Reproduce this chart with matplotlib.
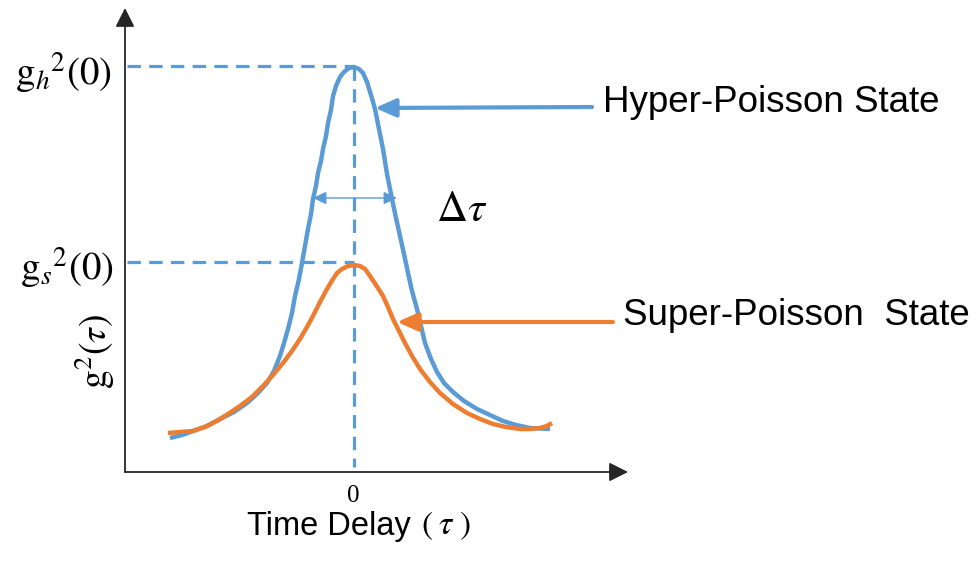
import matplotlib
matplotlib.use("Agg")
import matplotlib.pyplot as plt
from matplotlib.patches import FancyArrowPatch

plt.rcParams['mathtext.fontset'] = 'stix'

# Data: tau (horizontal offset from the peak) and g2 (height above the tau axis)
blue_tau = [-184, -172, -161, -147, -134, -120, -107, -97, -87, -80, -74, -70, -66, -62, -59, -55,
            -52, -49, -46, -43, -41, -38, -36, -33, -31, -28, -26, -23, -21, -18, -14, -10, -5, 0,
            5, 9, 13, 17, 21, 25, 29, 33, 38, 42, 46, 50, 54, 58, 63, 67, 71, 77, 83, 90, 99,
            110, 123, 136, 149, 162, 176, 196]
blue_g2 = [34, 37, 41, 46, 53, 60, 69, 78, 89, 101, 116, 129, 143, 159, 176, 193,
           209, 226, 243, 258, 273, 286, 299, 311, 323, 336, 349, 362, 376, 386, 395, 400, 404, 405,
           403, 399, 390, 377, 363, 343, 323, 298, 273, 254, 236, 218, 199, 181, 163, 146, 129, 113, 100, 89, 80,
           71, 63, 57, 51, 47, 44, 43]

orange_tau = [-186, -174, -161, -149, -137, -126, -114, -102, -91, -81, -71, -62, -54, -47, -41, -34,
              -27, -21, -17, -12, -6, 0, 6, 11, 16, 22, 29, 34, 39, 45, 51, 58, 66, 76, 86, 99,
              113, 126, 139, 152, 166, 176, 186, 193, 198]
orange_g2 = [39, 40, 41, 45, 51, 58, 66, 75, 86, 97, 109, 121, 133, 145, 156, 170,
             183, 193, 199, 203, 206, 207, 206, 203, 196, 187, 176, 165, 153, 141, 129, 116, 103, 90, 79, 68,
             59, 53, 48, 45, 43, 43, 44, 46, 49]

gh_level = 405
gs_level = 208
tick_labels = ['0']
hyper_label = 'Hyper-Poisson State'
super_label = 'Super-Poisson  State'

BLUE = '#5B9BD5'
ORANGE = '#ED7D31'
AXC = '#262626'

fig = plt.figure(figsize=(9.78, 5.61), dpi=100)
ax = fig.add_axes([0, 0, 1, 1])
ax.set_xlim(-354, 624)
ax.set_ylim(-89, 472)
ax.axis('off')

# axes with arrows
ax.add_patch(FancyArrowPatch((-229, 0), (274, 0), arrowstyle='-|>,head_length=1.15,head_width=0.58',
                             mutation_scale=10, lw=1.3, color=AXC, shrinkA=0, shrinkB=0))
ax.add_patch(FancyArrowPatch((-229, 0), (-229, 464), arrowstyle='-|>,head_length=1.15,head_width=0.58',
                             mutation_scale=10, lw=1.3, color=AXC, shrinkA=0, shrinkB=0))

# dashed guide lines
dash = dict(color=BLUE, lw=2.3, dashes=(4.2, 2.6))
ax.plot([-227, 0], [gh_level + 1, gh_level + 1], **dash)
ax.plot([-227, 0], [gs_level + 2, gs_level + 2], **dash)
ax.plot([0, 0], [gh_level, 5], **dash)

# curves
ax.plot(blue_tau, blue_g2, color=BLUE, lw=3.2, solid_joinstyle='round', solid_capstyle='butt', zorder=3)
ax.plot(orange_tau, orange_g2, color=ORANGE, lw=3.2, solid_joinstyle='round', solid_capstyle='butt', zorder=4)

# delta tau arrow
ax.add_patch(FancyArrowPatch((-41, 274), (43, 274), arrowstyle='<|-|>,head_length=0.8,head_width=0.38',
                             mutation_scale=10, lw=1.0, color=BLUE, shrinkA=0, shrinkB=0, zorder=5))
ax.text(108, 263, r'$\Delta\tau$', fontsize=31, ha='center', va='center', color='black')

# labelling arrows
ax.add_patch(FancyArrowPatch((238, 365), (21, 364), arrowstyle='-|>,head_length=1.25,head_width=0.55',
                             mutation_scale=10, lw=3.0, color=BLUE, shrinkA=0, shrinkB=0, zorder=5))
ax.add_patch(FancyArrowPatch((259, 150), (43, 150), arrowstyle='-|>,head_length=1.25,head_width=0.55',
                             mutation_scale=10, lw=3.0, color=ORANGE, shrinkA=0, shrinkB=0, zorder=5))

ax.text(249, 370, hyper_label, fontsize=26.5, family='Liberation Sans', ha='left', va='center')
ax.text(269, 157, super_label, fontsize=26.5, family='Liberation Sans', ha='left', va='center')

# y tick-like labels
ax.text(-242, 399, r'$\mathrm{g}_{h}{}^{2}(0)$', fontsize=28, ha='right', va='center')
ax.text(-240, 204, r'$\mathrm{g}_{s}{}^{2}(0)$', fontsize=28, ha='right', va='center')
ax.text(-259, 120, r'$\mathrm{g}^{2}(\tau)$', fontsize=27, ha='center', va='center', rotation=90)

# x tick label and axis title
ax.text(-1, -24, tick_labels[0], fontsize=18, family='Liberation Serif', ha='center', va='center')
ax.text(-107, -54, 'Time Delay', fontsize=23.5, family='Liberation Sans', ha='left', va='center')
ax.text(67, -54, r'$(\;\tau\;)$', fontsize=24, ha='left', va='center')

fig.savefig('out.png', dpi=100)
